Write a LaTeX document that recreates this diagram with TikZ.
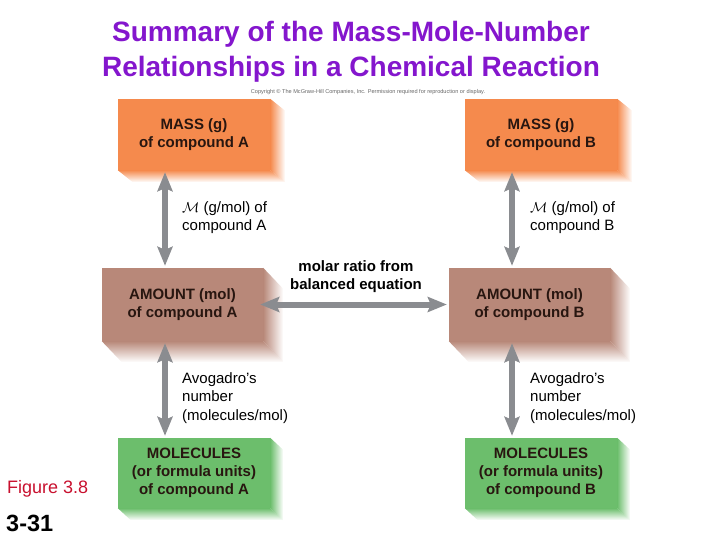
\documentclass[tikz,border=0pt]{standalone}
\usepackage{fontspec}
\setmainfont{Liberation Sans}
\usetikzlibrary{arrows.meta,calc}
\definecolor{titleC}{RGB}{132,22,205}
\definecolor{massC}{RGB}{245,138,77}
\definecolor{amtC}{RGB}{184,136,121}
\definecolor{molC}{RGB}{108,190,108}
\definecolor{arrC}{RGB}{138,140,144}
\definecolor{boxtxt}{RGB}{40,22,16}
\definecolor{figC}{RGB}{200,16,46}
\begin{document}
\begin{tikzpicture}[x=1pt,y=-1pt]
    % Styles
    \tikzset{box/.style={rectangle,minimum width=152pt,minimum height=71pt,inner sep=0pt,
                         align=center,text=boxtxt,font=\bfseries\fontsize{15}{18}\selectfont},
             amount box/.style={box,minimum width=161pt,minimum height=73pt},
             side label/.style={anchor=west,align=left,inner sep=0pt,font=\fontsize{15}{18.5}\selectfont},
             dbl arrow/.style={draw=arrC,fill=arrC,line width=6pt,
                               {Stealth[length=19pt,width=15pt,inset=3pt]}-{Stealth[length=19pt,width=15pt,inset=3pt]}}}
    \useasboundingbox (0,0) rectangle (720,540);

    % --- Title ---
    \node[align=center,text=titleC,font=\bfseries\fontsize{28}{35}\selectfont] (title) at (351,51.5)
        {Summary of the Mass-Mole-Number\\Relationships in a Chemical Reaction};
    \node[text=black!60,font=\fontsize{5.6}{6}\selectfont] (copy) at (368,92.5)
        {Copyright \textcopyright{} The McGraw-Hill Companies, Inc. Permission required for reproduction or display.};

    % --- Row 1: mass boxes ---
    \node[box,fill=massC] (massA) at (194,134.5) {MASS (g)\\of compound A};
    \node[box,fill=massC] (massB) at (541,134.5) {MASS (g)\\of compound B};

    % --- Row 2: amount boxes ---
    \node[amount box,fill=amtC] (amtA) at (182.5,304.5) {AMOUNT (mol)\\of compound A};
    \node[amount box,fill=amtC] (amtB) at (529.5,304.5) {AMOUNT (mol)\\of compound B};

    % --- Row 3: molecule boxes ---
    \node[box,fill=molC,minimum height=70pt] (molA) at (194,473) {MOLECULES\\(or formula units)\\of compound A};
    \node[box,fill=molC,minimum height=70pt] (molB) at (541,473) {MOLECULES\\(or formula units)\\of compound B};

    % --- 3D faces fading out to the right and below ---
    \foreach \n/\c/\dx/\dy in {massA/massC/15/12, massB/massC/15/12, amtA/amtC/20/21,
                               amtB/amtC/20/21, molA/molC/13/12, molB/molC/13/12} {
        \shade[left color=\c,right color=white] (\n.north east) -- ++(\dx,\dy)
            -- ($(\n.south east)+(\dx,\dy)$) -- (\n.south east) -- cycle;
        \shade[top color=\c,bottom color=white] (\n.south west) -- ++(\dx,\dy)
            -- ($(\n.south east)+(\dx,\dy)$) -- (\n.south east) -- cycle;
    }

    % --- Arrow columns ---
    \coordinate (colA) at (165,0);
    \coordinate (colB) at (512,0);

    % Mass <-> amount
    \draw[dbl arrow,shorten <=2pt,shorten >=2pt] (massA.south -| colA) -- (amtA.north -| colA);
    \draw[dbl arrow,shorten <=2pt,shorten >=2pt] (massB.south -| colB) -- (amtB.north -| colB);
    \node[side label] (mmA) at (182,217.5) {$\mathcal{M}$ (g/mol) of\\compound A};
    \node[side label] (mmB) at (530,217.5) {$\mathcal{M}$ (g/mol) of\\compound B};

    % Amount <-> amount
    \draw[dbl arrow,shorten <=-3pt,shorten >=2pt] (amtA.east) -- (amtB.west);
    \node[align=center,inner sep=0pt,font=\bfseries\fontsize{15}{18.5}\selectfont] (ratio) at (356,276.5)
        {molar ratio from\\balanced equation};

    % Amount <-> molecules
    \draw[dbl arrow,shorten <=2pt,shorten >=2pt] (amtA.south -| colA) -- (molA.north -| colA);
    \draw[dbl arrow,shorten <=2pt,shorten >=2pt] (amtB.south -| colB) -- (molB.north -| colB);
    \node[side label] (avoA) at (182,398) {Avogadro's\\number\\(molecules/mol)};
    \node[side label] (avoB) at (530,398) {Avogadro's\\number\\(molecules/mol)};

    % --- Figure number ---
    \node[anchor=west,inner sep=0pt,text=figC,font=\fontsize{18}{20}\selectfont] (fig) at (7,489) {Figure 3.8};
    \node[anchor=west,inner sep=0pt,font=\bfseries\fontsize{23.5}{26}\selectfont] (page) at (6,523) {3-31};
\end{tikzpicture}
\end{document}
